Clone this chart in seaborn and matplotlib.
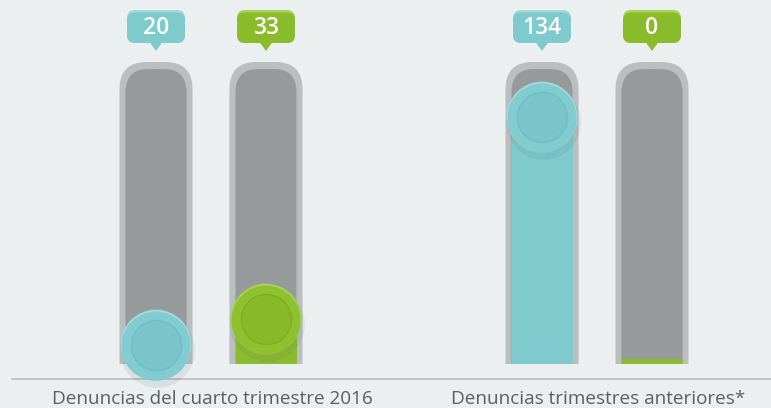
import numpy as np
import pandas as pd
import seaborn as sns
import matplotlib.pyplot as plt
from matplotlib.patches import FancyBboxPatch, Rectangle, Polygon

# datos
grupos = ["Denuncias del cuarto trimestre 2016", "Denuncias trimestres anteriores*"]
series = ["azul", "verde"]
valores_azul = [20, 134]
valores_verde = [33, 0]

colores = {"azul": "#7ecacd", "verde": "#89bc2a"}
colores_aro = {"azul": "#80ccd0", "verde": "#8dc22e"}
colores_centro = {"azul": "#7ac5c9", "verde": "#86ba28"}
colores_linea = {"azul": "#70bdc1", "verde": "#7cae24"}
colores_borde = {"azul": "#a0dadd", "verde": "#a8d355"}
x_pos = [156, 266, 542, 652]

sns.set_theme(style="white")
plt.rcParams['font.family'] = ['Open Sans', 'DejaVu Sans']

filas = []
i = 0
for g, va, vv in zip(grupos, valores_azul, valores_verde):
    for s, v in zip(series, [va, vv]):
        filas.append({"grupo": g, "serie": s, "valor": v, "x": x_pos[i]})
        i += 1
df = pd.DataFrame(filas)

base = 10.5      # fondo del tubo
tope = 161.5     # parte alta del tubo
min_fill = 13
df["relleno"] = np.maximum(df["valor"], min_fill) - base

fig = plt.figure(figsize=(7.71, 4.08), dpi=100)
fig.patch.set_facecolor("#ebeff0")
ax = fig.add_axes([0, 0, 1, 1])
ax.set_facecolor("#ebeff0")

# tubos (caja redondeada recortada abajo)
for x in df["x"]:
    clip = Rectangle((x - 50, base), 100, 200, transform=ax.transData)
    p1 = FancyBboxPatch((x - 36.5, base - 30), 73, tope - base + 30,
                        boxstyle="round,pad=0,rounding_size=27",
                        mutation_aspect=0.5, fc="#babebf", ec="none", zorder=1)
    p2 = FancyBboxPatch((x - 30.5, base - 30), 61, tope - 3.5 - base + 30,
                        boxstyle="round,pad=0,rounding_size=23",
                        mutation_aspect=0.5, fc="#969a9b", ec="none", zorder=2)
    for p in (p1, p2):
        ax.add_patch(p)
        p.set_clip_path(clip)

# relleno
sns.barplot(data=df, x="x", y="relleno", hue="serie", palette=colores,
            native_scale=True, dodge=False, errorbar=None, width=61 / 110,
            bottom=base, legend=False, ax=ax, zorder=3, linewidth=0, saturation=1)

# botones
bt = df[df["valor"] > 0]
ax.scatter(bt["x"] + 1, bt["valor"] - 2.5, s=2900, color="#6f7575", alpha=0.13,
           linewidths=0, zorder=4)
sns.scatterplot(data=bt, x="x", y="valor", hue="serie", palette=colores_borde,
                s=2600, linewidth=0, legend=False, ax=ax, zorder=5)
sns.scatterplot(data=bt, x="x", y=bt["valor"] - 0.6, hue="serie", palette=colores_aro,
                s=2480, linewidth=0, legend=False, ax=ax, zorder=6)
for s in series:
    sub = bt[bt["serie"] == s]
    ax.scatter(sub["x"], sub["valor"], s=1300, color=colores_centro[s],
               edgecolors=colores_linea[s], linewidths=1.0, zorder=7)

# etiquetas de valor
for _, r in df.iterrows():
    c = colores[r["serie"]]
    ax.add_patch(FancyBboxPatch((r["x"] - 29, 171), 58, 16.5,
                                boxstyle="round,pad=0,rounding_size=8",
                                mutation_aspect=0.5, fc=colores_borde[r["serie"]],
                                ec="none", zorder=8))
    ax.add_patch(FancyBboxPatch((r["x"] - 29, 171), 58, 15.3,
                                boxstyle="round,pad=0,rounding_size=8",
                                mutation_aspect=0.5, fc=c, ec="none", zorder=9))
    ax.add_patch(Polygon([(r["x"] - 6, 171.2), (r["x"] + 6, 171.2), (r["x"], 167)],
                         closed=True, fc=c, ec="none", zorder=9))
    ax.text(r["x"], 178.6, str(r["valor"]), ha="center", va="center",
            color="white", fontsize=16.5, fontweight="semibold", zorder=10)

# linea base y textos
ax.plot([12, 771], [3, 3], color="#b8bcbd", lw=1.2, zorder=1)
for g in grupos:
    xs = df.loc[df["grupo"] == g, "x"].mean()
    ax.text(xs + 1, -7, g, ha="center", va="center", color="#5e5e5e", fontsize=13.6)

ax.set_xlim(0, 771)
ax.set_ylim(-11.5, 192.5)
ax.axis("off")

fig.savefig("out.png", dpi=100, facecolor=fig.get_facecolor())
